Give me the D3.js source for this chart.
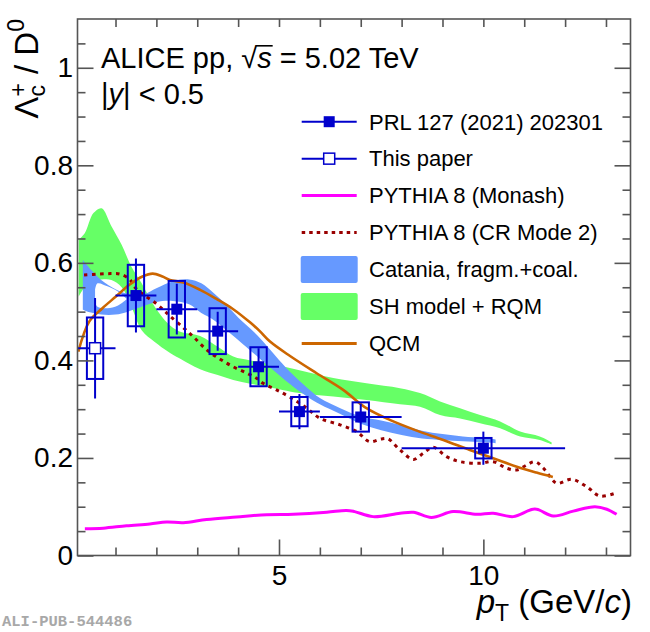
<!DOCTYPE html>
<html>
<head>
<meta charset="utf-8">
<script src="https://cdn.jsdelivr.net/npm/d3@7"></script>
<style>
body { margin: 0; background: #fff; }
svg text { font-family: "Liberation Sans", Arial, Helvetica, sans-serif; white-space: pre; }
</style>
</head>
<body>
<div id="chart"></div>
<script>
// ---- axis ranges and ticks
var xDomain = [0.07, 13.6],
    yDomain = [0, 1.1];
var xMajor = [5, 10],
    yMajor = [0, 0.2, 0.4, 0.6, 0.8, 1];

// ---- Catania fragm.+coal. band (plus the unfilled fold at low pT)
var catX  = [0.2, 0.4, 0.65, 1.0, 1.3, 1.7, 2.0, 2.4, 2.8, 3.1, 3.4, 3.7, 4.0, 4.4, 4.7, 5.0, 5.35, 5.7, 6.0, 6.5, 7.0, 7.5, 8.0, 8.5, 9.0, 9.5, 10.0, 10.3];
var catHi = [0.606, 0.586, 0.565, 0.546, 0.537, 0.536, 0.548, 0.562, 0.566, 0.558, 0.538, 0.515, 0.488, 0.457, 0.43, 0.401, 0.37, 0.343, 0.323, 0.302, 0.285, 0.277, 0.267, 0.256, 0.249, 0.244, 0.241, 0.238];
var catLo = [0.504, 0.498, 0.494, 0.494, 0.5, 0.512, 0.52, 0.522, 0.515, 0.497, 0.483, 0.463, 0.442, 0.413, 0.391, 0.37, 0.346, 0.325, 0.31, 0.29, 0.27, 0.257, 0.247, 0.24, 0.237, 0.234, 0.232, 0.23];
var holeX  = [0.5, 0.56, 0.8, 1.05, 1.28];
var holeHi = [0.545, 0.558, 0.552, 0.542, 0.526];
var holeLo = [0.52, 0.51, 0.507, 0.512, 0.526];

// ---- SH model + RQM band
var shmX  = [0.1, 0.25, 0.46, 0.66, 0.9, 1.15, 1.39, 1.64, 1.96, 2.29, 2.55, 3.07, 3.5, 3.88, 4.3, 4.7, 5.5, 6.33, 7.14, 7.96, 8.45, 8.94, 9.43, 9.92, 10.41, 10.9, 11.38, 11.67];
var shmHi = [0.647, 0.661, 0.702, 0.712, 0.675, 0.637, 0.592, 0.558, 0.51, 0.475, 0.46, 0.45, 0.428, 0.408, 0.4, 0.394, 0.38, 0.364, 0.353, 0.343, 0.333, 0.316, 0.302, 0.288, 0.275, 0.254, 0.244, 0.232];
var shmLo = [0.531, 0.55, 0.562, 0.566, 0.565, 0.55, 0.51, 0.462, 0.438, 0.418, 0.405, 0.382, 0.37, 0.36, 0.352, 0.346, 0.333, 0.326, 0.319, 0.31, 0.305, 0.288, 0.281, 0.271, 0.261, 0.244, 0.237, 0.228];

// ---- model curves [pT, ratio]
var monash = [[0.25, 0.055], [0.7, 0.056], [1.27, 0.061], [1.84, 0.0646], [2.25, 0.0687], [2.66, 0.0673], [3.23, 0.074], [3.96, 0.079], [4.7, 0.0837], [5.35, 0.0845], [6.17, 0.0886], [6.65, 0.0925], [6.85, 0.09], [7.3, 0.0797], [7.96, 0.0866], [8.29, 0.0886], [8.73, 0.078], [9.26, 0.09], [9.84, 0.0845], [10.24, 0.0866], [10.73, 0.0797], [11.26, 0.0951], [11.71, 0.081], [12.2, 0.091], [12.73, 0.1], [13.02, 0.0948], [13.26, 0.0845]];
var crMode2 = [[0.23, 0.575], [0.6, 0.577], [0.9, 0.578], [1.11, 0.577], [1.35, 0.566], [1.46, 0.551], [1.7, 0.534], [1.99, 0.517], [2.19, 0.502], [2.33, 0.491], [2.66, 0.467], [2.9, 0.449], [3.23, 0.4215], [3.56, 0.4025], [3.88, 0.387], [4.21, 0.374], [4.45, 0.3635], [4.61, 0.353], [4.94, 0.3395], [5.27, 0.3245], [5.68, 0.302], [6.0, 0.2814], [6.49, 0.268], [6.9, 0.254], [7.22, 0.2334], [7.5, 0.239], [7.67, 0.239], [7.96, 0.2164], [8.29, 0.197], [8.53, 0.2096], [8.77, 0.222], [9.1, 0.2027], [9.43, 0.1924], [9.92, 0.189], [10.24, 0.1924], [10.57, 0.1789], [10.82, 0.1754], [11.06, 0.1856], [11.26, 0.1924], [11.47, 0.1789], [11.63, 0.1616], [11.8, 0.148], [12.16, 0.1563], [12.53, 0.141], [12.85, 0.122], [13.22, 0.1276]];
var qcm = [[0.09, 0.418], [0.36, 0.48], [0.68, 0.507], [1.01, 0.531], [1.34, 0.555], [1.66, 0.572], [1.91, 0.578], [2.15, 0.572], [2.33, 0.565], [2.66, 0.5596], [3.07, 0.5446], [3.47, 0.526], [3.88, 0.505], [4.29, 0.478], [4.53, 0.46], [4.78, 0.4386], [5.27, 0.409], [5.92, 0.3737], [6.57, 0.3395], [7.14, 0.302], [7.71, 0.278], [8.37, 0.256], [9.02, 0.237], [9.67, 0.2164], [10.24, 0.1994], [10.82, 0.182], [11.3, 0.17], [11.7, 0.161]];

// ---- measured points
var prlX    = [1.5, 2.5, 3.5, 4.5, 5.5, 7, 10];
var prlXerr = [0.5, 0.5, 0.5, 0.5, 0.5, 1, 2];
var prlY    = [0.533, 0.505, 0.46, 0.387, 0.295, 0.284, 0.22];
var prlStat = [0.076, 0.052, 0.04, 0.038, 0.036, 0.027, 0.034];
var prlSyst = [0.063, 0.058, 0.047, 0.04, 0.03, 0.03, 0.021];
var newX    = [0.5];
var newXerr = [0.5];
var newY    = [0.425];
var newStat = [0.103];
var newSyst = [0.063];
var systHalfWidth = 0.2;

var legendLabels = ["PRL 127 (2021) 202301", "This paper", "PYTHIA 8 (Monash)",
    "PYTHIA 8 (CR Mode 2)", "Catania, fragm.+coal.", "SH model + RQM", "QCM"];

// ---- colours
var cBlue = "#0000cc", cCat = "#6699ff", cShm = "#66ff66",
    cMonash = "#ff00ff", cCR = "#990000", cQcm = "#cc6600";

var W = 650, H = 632,
    L = 77.5, R = 630.5, T = 19, B = 555.5;

var svg = d3.select("#chart").append("svg")
    .attr("width", W).attr("height", H);

var x = d3.scaleLinear().domain(xDomain).range([L, R]);
var y = d3.scaleLinear().domain(yDomain).range([B, T]);

svg.append("clipPath").attr("id", "plotclip")
  .append("rect").attr("x", L).attr("y", T).attr("width", R - L).attr("height", B - T);

var plot = svg.append("g").attr("clip-path", "url(#plotclip)");

function zipBand (xs, lo, hi) {
    return xs.map(function(d, i) { return {x: d, lo: lo[i], hi: hi[i]}; });
}
var bandfun = d3.area()
    .x(function(d) { return x(d.x); })
    .y0(function(d) { return y(d.lo); })
    .y1(function(d) { return y(d.hi); })
    .curve(d3.curveCatmullRom);
var linefun = d3.line()
    .x(function(d) { return x(d[0]); })
    .y(function(d) { return y(d[1]); })
    .curve(d3.curveCatmullRom);

// bands
plot.append("path")
    .attr("d", bandfun(zipBand(shmX, shmLo, shmHi)))
    .attr("fill", cShm);
plot.append("path")
    .attr("d", bandfun(zipBand(catX, catLo, catHi)) + bandfun(zipBand(holeX, holeLo, holeHi)))
    .attr("fill", cCat)
    .attr("fill-rule", "evenodd");

// curves
plot.append("path").attr("d", linefun(monash))
    .attr("fill", "none").attr("stroke", cMonash).attr("stroke-width", 3);
plot.append("path").attr("d", linefun(crMode2))
    .attr("fill", "none").attr("stroke", cCR).attr("stroke-width", 3)
    .attr("stroke-dasharray", "3.5 4.5");
plot.append("path").attr("d", linefun(qcm))
    .attr("fill", "none").attr("stroke", cQcm).attr("stroke-width", 2.6);

// data points
function drawPoints (xs, xerr, ys, stat, syst, open) {
    var pts = xs.map(function(d, i) {
        return {x: d, xe: xerr[i], y: ys[i], st: stat[i], sy: syst[i]};
    });
    var g = plot.append("g").attr("stroke", cBlue).attr("stroke-width", 2);
    g.selectAll(".sys").data(pts).enter().append("rect")
        .attr("x", function(d) { return x(d.x - systHalfWidth); })
        .attr("y", function(d) { return y(d.y + d.sy); })
        .attr("width", function(d) { return x(d.x + systHalfWidth) - x(d.x - systHalfWidth); })
        .attr("height", function(d) { return y(d.y - d.sy) - y(d.y + d.sy); })
        .attr("fill", "none");
    g.selectAll(".ex").data(pts).enter().append("line")
        .attr("x1", function(d) { return x(d.x - d.xe); })
        .attr("x2", function(d) { return x(d.x + d.xe); })
        .attr("y1", function(d) { return y(d.y); })
        .attr("y2", function(d) { return y(d.y); });
    g.selectAll(".ey").data(pts).enter().append("line")
        .attr("x1", function(d) { return x(d.x); })
        .attr("x2", function(d) { return x(d.x); })
        .attr("y1", function(d) { return y(d.y - d.st); })
        .attr("y2", function(d) { return y(d.y + d.st); });
    g.selectAll(".mk").data(pts).enter().append("rect")
        .attr("x", function(d) { return x(d.x) - 5.5; })
        .attr("y", function(d) { return y(d.y) - 5.5; })
        .attr("width", 11).attr("height", 11)
        .attr("fill", open ? "#fff" : cBlue)
        .attr("stroke-width", open ? 1.5 : 0);
}
drawPoints(prlX, prlXerr, prlY, prlStat, prlSyst, false);
drawPoints(newX, newXerr, newY, newStat, newSyst, true);

// frame and axes
svg.append("rect").attr("x", L).attr("y", T).attr("width", R - L).attr("height", B - T)
    .attr("fill", "none").attr("stroke", "#555").attr("stroke-width", 1.6);

var xMinor = d3.range(1, 14).filter(function(d) { return xMajor.indexOf(d) < 0; });
var yMinor = d3.range(0.05, 1.1, 0.05).filter(function(d) {
    return yMajor.every(function(m) { return Math.abs(m - d) > 1e-6; });
});

function tickAxis (axis, tr) {
    var g = svg.append("g").attr("transform", tr).attr("color", "#555").call(axis);
    g.select(".domain").remove();
    g.selectAll("line").attr("stroke-width", 1.6);
    g.selectAll("text").attr("fill", "#000").style("font-size", "28px");
    return g;
}
var fmt = function(d) { return d3.format("~g")(d); };

tickAxis(d3.axisBottom(x).tickValues(xMajor).tickSize(-16).tickPadding(10).tickFormat(fmt), "translate(0," + B + ")");
tickAxis(d3.axisBottom(x).tickValues(xMinor).tickSize(-8).tickFormat(""), "translate(0," + B + ")");
tickAxis(d3.axisTop(x).tickValues(xMajor.concat(xMinor)).tickSize(-8).tickFormat(""), "translate(0," + T + ")");
tickAxis(d3.axisLeft(y).tickValues(yMajor).tickSize(-16).tickPadding(4.5).tickFormat(fmt), "translate(" + L + ",0)");
tickAxis(d3.axisLeft(y).tickValues(yMinor).tickSize(-8).tickFormat(""), "translate(" + L + ",0)");
tickAxis(d3.axisRight(y).tickValues(yMajor).tickSize(-16).tickFormat(""), "translate(" + R + ",0)");
tickAxis(d3.axisRight(y).tickValues(yMinor).tickSize(-8).tickFormat(""), "translate(" + R + ",0)");

// axis titles
var xt = svg.append("text").attr("x", 632).attr("y", 613)
    .attr("text-anchor", "end").attr("font-size", 33);
xt.append("tspan").attr("font-style", "italic").text("p");
xt.append("tspan").attr("font-size", 23).attr("dy", 8).text("T");
xt.append("tspan").attr("dy", -8).text(" (GeV/");
xt.append("tspan").attr("font-style", "italic").text("c");
xt.append("tspan").text(")");

var yt = svg.append("text").attr("transform", "translate(38,19) rotate(-90)")
    .attr("text-anchor", "end").attr("font-size", 33);
yt.append("tspan").text("\u039B");
yt.append("tspan").attr("font-size", 23).attr("dy", 7).text("c");
yt.append("tspan").attr("font-size", 23).attr("dx", -11.5).attr("dy", -19).text("+");
yt.append("tspan").attr("dy", 12).text(" / D");
yt.append("tspan").attr("font-size", 23).attr("dy", -14).text("0");

// header
var h1 = svg.append("text").attr("x", 101).attr("y", 68.3).attr("font-size", 29);
h1.append("tspan").text("ALICE pp, ");
h1.append("tspan").text("\u221A");
h1.append("tspan").attr("font-style", "italic").text("s");
h1.append("tspan").text(" = 5.02 TeV");
var node = h1.node(), sIdx = "ALICE pp, \u221A".length;
var sx0 = node.getEndPositionOfChar(sIdx - 1).x, sx1 = node.getEndPositionOfChar(sIdx).x;
svg.append("line").attr("x1", sx0 - 1).attr("x2", sx1 + 1)
    .attr("y1", 68.3 - 22.5).attr("y2", 68.3 - 22.5)
    .attr("stroke", "#000").attr("stroke-width", 1.6);

var h2 = svg.append("text").attr("x", 101).attr("y", 104).attr("font-size", 29);
h2.append("tspan").text("|");
h2.append("tspan").attr("font-style", "italic").text("y");
h2.append("tspan").text("| < 0.5");

// legend
var legY0 = 121.7, legDy = 36.95, legX0 = 301.7, legX1 = 356.7, legTx = 369;
var leg = svg.append("g");
legendLabels.forEach(function(label, i) {
    var cy = legY0 + i * legDy, cx = (legX0 + legX1) / 2;
    if (i <= 1) {
        leg.append("line").attr("x1", legX0).attr("x2", legX1).attr("y1", cy).attr("y2", cy)
            .attr("stroke", cBlue).attr("stroke-width", 2);
        leg.append("rect").attr("x", cx - 5.5).attr("y", cy - 5.5).attr("width", 11).attr("height", 11)
            .attr("fill", i == 0 ? cBlue : "#fff").attr("stroke", cBlue).attr("stroke-width", i == 0 ? 0 : 1.5);
    } else if (i == 4 || i == 5) {
        leg.append("rect").attr("x", legX0 - 1).attr("y", cy - 13.5).attr("width", legX1 - legX0 + 2).attr("height", 27)
            .attr("rx", 2).attr("fill", i == 4 ? cCat : cShm);
    } else {
        var col = i == 2 ? cMonash : (i == 3 ? cCR : cQcm);
        leg.append("line").attr("x1", legX0).attr("x2", legX1).attr("y1", cy).attr("y2", cy)
            .attr("stroke", col).attr("stroke-width", 3)
            .attr("stroke-dasharray", i == 3 ? "3.5 4" : null);
    }
    leg.append("text").attr("x", legTx).attr("y", cy + 7.8).attr("font-size", 22).text(label);
});

svg.append("text").attr("x", 2).attr("y", 626)
    .style("font-family", "'Liberation Mono', 'Courier New', monospace")
    .style("font-weight", "bold")
    .attr("font-size", 15.5).attr("fill", "#a8a8a8").text("ALI-PUB-544486");
</script>
</body>
</html>
